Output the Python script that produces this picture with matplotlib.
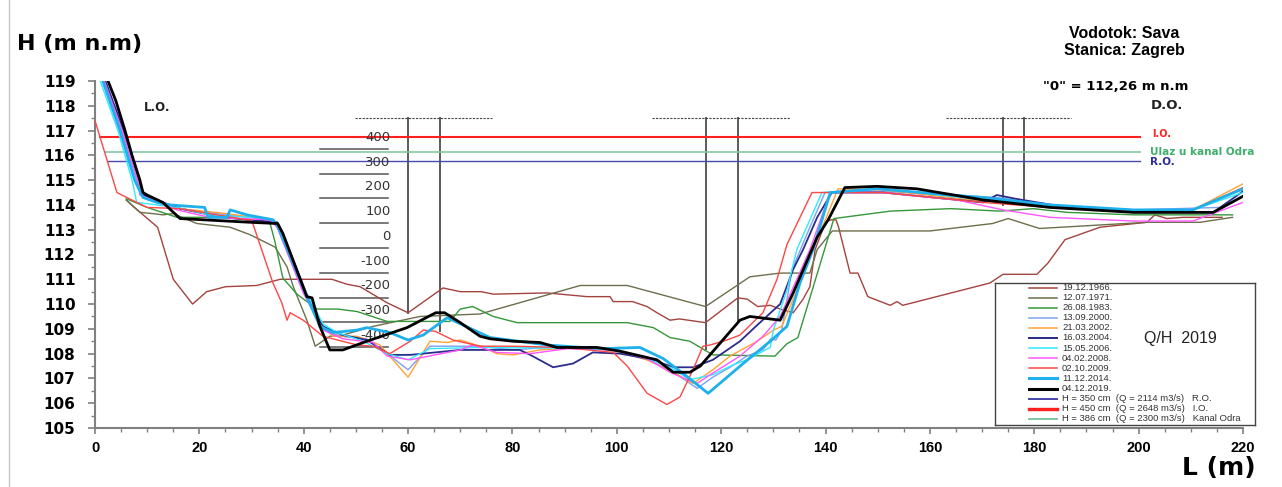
import matplotlib
matplotlib.use("Agg")
import matplotlib.pyplot as plt
import numpy as np

plt.rcParams['font.family'] = ['Liberation Sans', 'DejaVu Sans']

W, H = 1282, 487

# --- cross sections (L in m, H in m n.m) ---
L_1966 = [6, 7, 12, 15, 18.7, 21.4, 25, 31, 35.5, 40.6, 45.4, 48.3, 50.8, 56, 60, 66.7, 70, 74, 76.3, 86.6,
          94.3, 98.7, 99.3, 103, 105.8, 107.7, 110.2, 112, 117, 120.4, 123.2, 125, 127, 129.4, 131.3, 133.8,
          135.7, 137, 138, 140, 141, 142, 142.5, 144.7, 146.2, 148.1, 152.4, 153.7, 154.8, 171.5, 174, 180.5,
          182.6, 185.9, 192.6, 201.6, 203.1, 205.4, 208.5, 216]
H_1966 = [114.2, 114.0, 113.1, 111.0, 110.0, 110.5, 110.7, 110.75, 111.0, 111.0, 111.0, 110.8, 110.7, 110.05,
          109.65, 110.65, 110.5, 110.5, 110.4, 110.45, 110.3, 110.3, 110.1, 110.1, 109.9, 109.65, 109.35, 109.4,
          109.25, 109.8, 110.25, 110.2, 109.9, 109.95, 109.8, 109.65, 110.2, 110.7, 112.2, 113.3, 113.4, 113.4,
          113.1, 111.25, 111.25, 110.3, 109.95, 110.1, 109.95, 110.85, 111.2, 111.2, 111.65, 112.6, 113.1,
          113.3, 113.6, 113.45, 113.5, 113.5]

L_1971 = [6, 8.6, 11.1, 13, 15, 19.5, 25.9, 29.7, 34.5, 36.8, 38, 40.6, 42.2, 45, 47.5, 53.3, 62.3, 73.8, 93,
          102, 117, 125.5, 131.3, 137, 138.4, 141.3, 160, 172, 175, 181, 201.6, 211.8, 218]
H_1971 = [114.2, 113.7, 113.65, 113.6, 113.65, 113.25, 113.1, 112.8, 112.3, 111.5, 110.7, 109.35, 108.3,
          108.7, 108.75, 109.1, 109.5, 109.6, 110.75, 110.75, 109.9, 111.1, 111.25, 111.25, 112.2, 112.95,
          112.95, 113.25, 113.45, 113.05, 113.3, 113.3, 113.5]

L_1983 = [6, 10, 15.7, 24.5, 33.5, 34.5, 36, 38.7, 42.5, 46.4, 50.2, 56, 68, 70, 72.4, 76.3, 80.9, 102, 107,
          110.2, 114, 118.4, 130.3, 132.6, 134.7, 141.6, 152.4, 164, 173.4, 179.8, 186.3, 199, 218]
H_1983 = [114.25, 113.9, 113.5, 113.5, 113.3, 112.5, 111.05, 110.4, 109.8, 109.8, 109.7, 109.3, 109.3, 109.8,
          109.9, 109.5, 109.25, 109.25, 109.05, 108.65, 108.5, 107.95, 107.9, 108.4, 108.65, 113.45, 113.75,
          113.85, 113.75, 113.85, 113.7, 113.6, 113.6]

L_2000 = [1.6, 5, 8, 9, 16.3, 25, 34, 35, 40.6, 43.5, 47, 52, 56, 60, 64.2, 73.8, 80.1, 86.6, 99.3, 105.8,
          110.2, 115.4, 118.4, 121.7, 124.9, 128, 129.5, 130.5, 131.6, 133.6, 137, 139.9, 151, 172.8, 183, 199,
          215.6, 218]
H_2000 = [119, 117, 115, 114.4, 113.85, 113.6, 113.4, 113.1, 110.3, 109.0, 108.7, 108.6, 108.0, 107.35,
          108.3, 108.3, 108.15, 108.25, 108.15, 107.75, 107.35, 106.6, 107.05, 107.45, 107.9, 108.15, 108.6,
          108.55, 108.95, 111.4, 113.1, 114.5, 114.55, 114.3, 114.0, 113.8, 113.9, 114.1]

L_2002 = [1.8, 5.3, 8.3, 9, 16.3, 25.3, 33.5, 35, 40.6, 43.5, 45.6, 50.2, 54.6, 60, 64.2, 67.5, 70, 73.8, 77,
          80.1, 85.3, 93, 99.3, 105.8, 110.8, 114.6, 118.4, 121.7, 126.9, 130, 131.6, 135.1, 137.6, 142.4, 151,
          170.2, 183, 199, 210.4, 220]
H_2002 = [119, 117, 115, 114.4, 113.85, 113.65, 113.4, 113.1, 110.4, 109.1, 108.7, 108.7, 108.35, 107.05,
          108.5, 108.45, 108.55, 108.3, 108.0, 107.95, 108.15, 108.25, 108.15, 107.75, 107.25, 106.8, 107.35,
          107.9, 108.5, 108.95, 109.1, 110.85, 112.2, 114.65, 114.6, 114.15, 113.9, 113.75, 113.8, 114.85]

L_2004 = [2.0, 5.5, 8.5, 9.2, 16.3, 24.5, 34.9, 36, 41.2, 43.7, 47.5, 52.1, 56.5, 60.4, 70, 81.4, 83.4, 87.8,
          91.6, 95.4, 100.6, 105.8, 111, 114.6, 118.4, 123.6, 126.9, 131.3, 133.8, 135.7, 138.4, 141.2, 151,
          170.2, 172.8, 176.4, 186.3, 199, 214.3, 220]
H_2004 = [119, 117, 115, 114.4, 113.85, 113.5, 113.3, 112.85, 110.05, 109.1, 108.75, 108.55, 107.95, 107.95,
          108.15, 108.15, 107.95, 107.45, 107.6, 108.05, 108.0, 107.8, 107.45, 107.45, 107.75, 108.5, 109.15,
          110.0, 111.4, 112.2, 113.5, 114.5, 114.5, 114.1, 114.4, 114.25, 113.9, 113.7, 113.7, 114.55]

L_2006 = [1.0, 4.4, 7.1, 8, 15.7, 22, 33.5, 34.9, 39.9, 43.7, 46.4, 51.4, 56, 60, 64.2, 73.8, 99.3, 105.8,
          110.2, 114, 118.4, 122.3, 124.9, 129.4, 130, 132.6, 134.5, 139.3, 151, 170.2, 183, 199, 210.4, 220]
H_2006 = [119, 117, 115, 114.1, 113.9, 113.6, 113.45, 113.2, 110.7, 109.2, 108.85, 108.5, 108.0, 107.75,
          108.2, 108.25, 108.2, 107.8, 107.45, 106.95, 107.15, 107.55, 107.75, 108.25, 108.95, 110.55, 112.2,
          114.5, 114.65, 114.2, 114.0, 113.8, 113.8, 114.5]

L_2008 = [1.8, 5.2, 8.2, 8.6, 15.7, 22, 33.5, 34.9, 39.9, 43.7, 47.5, 53.3, 56, 60.4, 70, 72.4, 77, 83.4,
          90.5, 99.3, 105.8, 110.2, 113.5, 115.4, 117.9, 123.6, 128, 131.3, 134.5, 137, 140.9, 151, 165.2, 174,
          183, 199, 210.4, 220]
H_2008 = [119, 117, 115, 114.4, 113.8, 113.5, 113.4, 113.1, 110.45, 108.95, 108.6, 108.45, 107.9, 107.75,
          108.15, 108.35, 108.05, 108.0, 108.2, 108.15, 107.8, 107.25, 106.95, 106.8, 107.15, 107.9, 108.7,
          109.5, 111, 112.2, 114.5, 114.5, 114.2, 113.8, 113.5, 113.35, 113.35, 114.1]

L_2009 = [0, 4.2, 6.1, 10, 16.3, 29.1, 30, 34.1, 35.8, 36.8, 37.4, 39.9, 43.7, 50.2, 53.3, 56.5, 60.4, 62.9,
          65.2, 68.6, 73.8, 80.1, 89.7, 99.3, 102, 105.8, 109.6, 112.1, 114.6, 116.5, 117.9, 121.1, 123.6, 128,
          130.7, 132.6, 137.4, 140.9, 151, 170.2, 183, 199, 210.4, 220]
H_2009 = [117.4, 114.5, 114.3, 113.9, 113.85, 113.4, 113.4, 110.85, 110.05, 109.35, 109.65, 109.35, 108.7,
          108.35, 108.3, 108.0, 108.5, 108.95, 108.9, 108.55, 108.3, 108.3, 108.25, 108.05, 107.5, 106.4,
          105.95, 106.25, 107.35, 108.3, 108.35, 108.55, 108.75, 109.65, 111.0, 112.4, 114.5, 114.5, 114.5,
          114.1, 113.9, 113.7, 113.8, 114.7]

L_2014 = [1.5, 4.8, 7.6, 9.2, 11.9, 14.4, 17.6, 21, 21.7, 25.3, 25.9, 29.1, 34.1, 34.9, 40.6, 43.1, 45.6,
          50.2, 52.1, 56.5, 60, 62.9, 67.5, 75.7, 86.6, 96.8, 104.4, 108.9, 112.7, 117.5, 124.2, 129.4, 132.6,
          135.1, 137.6, 140.9, 149.9, 163.9, 170.2, 183, 199, 210.4, 220]
H_2014 = [119, 117, 115, 114.3, 114.1, 114.0, 113.95, 113.9, 113.5, 113.5, 113.8, 113.6, 113.4, 113.2, 110.3,
          109.1, 108.85, 108.95, 109.05, 108.85, 108.55, 108.75, 109.45, 108.65, 108.35, 108.2, 108.25, 107.8,
          107.2, 106.4, 107.6, 108.5, 109.1, 110.85, 112.2, 114.5, 114.65, 114.4, 114.3, 114.0, 113.8, 113.8,
          114.65]

L_2019 = [2.5, 4, 5.75, 7.1, 8.6, 9.2, 10, 13, 16.3, 29.7, 35, 36, 40.6, 41.6, 43.1, 45, 47.5, 52.1, 59.8,
          65.3, 67, 70, 73.8, 75.7, 80.1, 85.3, 88.5, 96.2, 100.6, 107.7, 110.8, 114, 116, 123.6, 125.5, 131.3,
          133.8, 138.4, 140.5, 143.7, 149.9, 157.5, 170.2, 183, 199, 214.3, 220]
H_2019 = [119, 118.2, 117, 116, 115, 114.5, 114.4, 114.1, 113.45, 113.3, 113.25, 112.85, 110.3, 110.25,
          109.1, 108.15, 108.15, 108.5, 109.05, 109.65, 109.65, 109.25, 108.7, 108.6, 108.5, 108.45, 108.25,
          108.25, 108.1, 107.75, 107.25, 107.25, 107.5, 109.35, 109.5, 109.35, 110.45, 112.7, 113.4, 114.7,
          114.75, 114.65, 114.2, 113.9, 113.7, 113.7, 114.35]

series = [
    ("19.12.1966.", L_1966, H_1966, "#a3433e", 1.0),
    ("12.07.1971.", L_1971, H_1971, "#6e6e4c", 1.0),
    ("26.08.1983.", L_1983, H_1983, "#35973a", 1.0),
    ("13.09.2000.", L_2000, H_2000, "#7ea0f4", 1.0),
    ("21.03.2002.", L_2002, H_2002, "#ffa236", 1.0),
    ("16.03.2004.", L_2004, H_2004, "#2c2c8c", 1.3),
    ("15.05.2006.", L_2006, H_2006, "#30eaff", 1.0),
    ("04.02.2008.", L_2008, H_2008, "#ff55ff", 1.0),
    ("02.10.2009.", L_2009, H_2009, "#ff4646", 1.0),
    ("11.12.2014.", L_2014, H_2014, "#1eb0ec", 2.0),
    ("04.12.2019.", L_2019, H_2019, "#000000", 2.0),
]

# water levels: gauge zero 112.26 m n.m, H in cm
zero = 112.26
level_labels = ["H = 350 cm  (Q = 2114 m3/s)   R.O.",
                "H = 450 cm  (Q = 2648 m3/s)   I.O.",
                "H = 386 cm  (Q = 2300 m3/s)   Kanal Odra"]
level_cm = [350, 450, 386]
level_start = [2.5, 1.0, 2.0]
level_end = 200.3
level_colors = ["#4a4aae", "#ff2020", "#82c8a4"]
level_lw = [1.0, 1.5, 1.2]

gauge_cm = [400, 300, 200, 100, 0, -100, -200, -300, -400]
piers = [[60.0, 66.1], [117.1, 123.2], [174.0, 178.0]]
pier_bottom = [[109.65, 108.9], [108.2, 109.3], [114.0, 114.1]]
deck_span = [[49.8, 76.1], [106.7, 133.2], [163.0, 187.0]]
deck_top = 117.5

BOLD_WIDE = ['DejaVu Sans']

fig = plt.figure(figsize=(W / 100, H / 100), dpi=100)
ax = fig.add_axes([95 / W, (H - 428) / H, (1243 - 95) / W, (428 - 81) / H])

# gauge scale
for cm in gauge_cm:
    y = zero + cm / 100
    ax.plot([43.1, 56.2], [y, y], color="#555555", lw=1.1)
    ax.text(56.6, y + 0.47, str(cm), ha="right", va="center", fontsize=9.5, color="#333333",
            family=BOLD_WIDE)

# bridge piers and deck
for xs, bs, span in zip(piers, pier_bottom, deck_span):
    for x, b in zip(xs, bs):
        ax.plot([x, x], [b, deck_top], color="#5a5a5a", lw=1.4)
    ax.plot(span, [deck_top, deck_top], color="#444444", lw=0.8, ls=(0, (2, 1.2)))

# water levels
for cm, x0, c, lw in zip(level_cm, level_start, level_colors, level_lw):
    y = zero + cm / 100
    ax.plot([x0, level_end], [y, y], color=c, lw=lw)

for name, xs, ys, c, lw in series:
    ax.plot(xs, ys, color=c, lw=lw, solid_joinstyle="round", zorder=3 if lw < 1.5 else 4)

ax.set_xlim(0, 220)
ax.set_ylim(105, 119)
ax.set_xticks(np.arange(0, 221, 20))
ax.set_xticks(np.arange(0, 221, 5), minor=True)
ax.set_yticks(np.arange(105, 120, 1))
ax.set_yticks(np.arange(105, 119.01, 0.5), minor=True)
for s in ["top", "right"]:
    ax.spines[s].set_visible(False)
for s in ["left", "bottom"]:
    ax.spines[s].set_color("#808080")
    ax.spines[s].set_linewidth(1.5)
ax.tick_params(axis="y", which="major", length=5, width=1.2, color="#808080", pad=9,
               labelsize=11)
ax.tick_params(axis="y", which="minor", length=3, width=1, color="#808080")
ax.tick_params(axis="x", which="major", length=4, width=1.2, color="#808080", pad=5,
               labelsize=10.5)
ax.tick_params(axis="x", which="minor", length=3, width=1, color="#808080")
for lab in ax.get_xticklabels():
    lab.set_fontweight("bold")
for lab in ax.get_yticklabels():
    lab.set_fontweight("bold")
    lab.set_family(BOLD_WIDE)
ax.patch.set_alpha(0)

# in-plot labels
ax.text(11.9, 117.95, "L.O.", ha="center", va="center", fontsize=8.5, fontweight="bold",
        color="#222222", family=BOLD_WIDE)
ax.text(205.5, 118, "D.O.", ha="center", va="center", fontsize=9.5, fontweight="bold",
        color="#222222", family=BOLD_WIDE)
ax.text(202.5, 116.88, "I.O.", ha="left", va="center", fontsize=7, fontweight="bold", color="#ff2020",
        family=BOLD_WIDE)
ax.text(202.2, 116.14, "Ulaz u kanal Odra", ha="left", va="center", fontsize=7.5, fontweight="bold",
        color="#3fae6a", family=BOLD_WIDE)
ax.text(202.2, 115.74, "R.O.", ha="left", va="center", fontsize=7.5, fontweight="bold", color="#2c2c9a",
        family=BOLD_WIDE)

# figure texts
fig.text(17 / W, 1 - 44 / H, "H (m n.m)", ha="left", va="center", fontsize=16, fontweight="bold",
         family=BOLD_WIDE)
fig.text(1256 / W, 1 - 468 / H, "L (m)", ha="right", va="center", fontsize=18, fontweight="bold",
         family=BOLD_WIDE)
fig.text(1124 / W, 1 - 33 / H, "Vodotok: Sava", ha="center", va="center", fontsize=11.5, fontweight="bold")
fig.text(1124 / W, 1 - 50 / H, "Stanica: Zagreb", ha="center", va="center", fontsize=11.5, fontweight="bold")
fig.text(1116 / W, 1 - 87 / H, '"0" = 112,26 m n.m', ha="center", va="center", fontsize=9.5,
         fontweight="bold", family=BOLD_WIDE)

# left frame edge
fig.add_artist(plt.Line2D([9 / W, 9 / W], [0, 1], color="#c8c8c8", lw=1.0))

# legend box
lg = fig.add_axes([995 / W, (H - 425) / H, 260 / W, 142 / H])
lg.set_xlim(0, 260)
lg.set_ylim(142, 0)
lg.set_xticks([])
lg.set_yticks([])
for s in lg.spines.values():
    s.set_color("#444444")
    s.set_linewidth(1.0)
entries = [(n, c, lw) for n, _, _, c, lw in series]
entries += list(zip(level_labels, level_colors, [1.3, 2.2, 1.3]))
for i, (n, c, lw) in enumerate(entries):
    y = 4.5 + i * 10.1
    lg.plot([34, 62], [y, y], color=c, lw=lw * 1.1)
    lg.text(67, y, n, ha="left", va="center", fontsize=6.8, color="#333333")
lg.text(185, 56, "Q/H  2019", ha="center", va="center", fontsize=11.5, color="#222222")

fig.savefig("out.png", dpi=100)
